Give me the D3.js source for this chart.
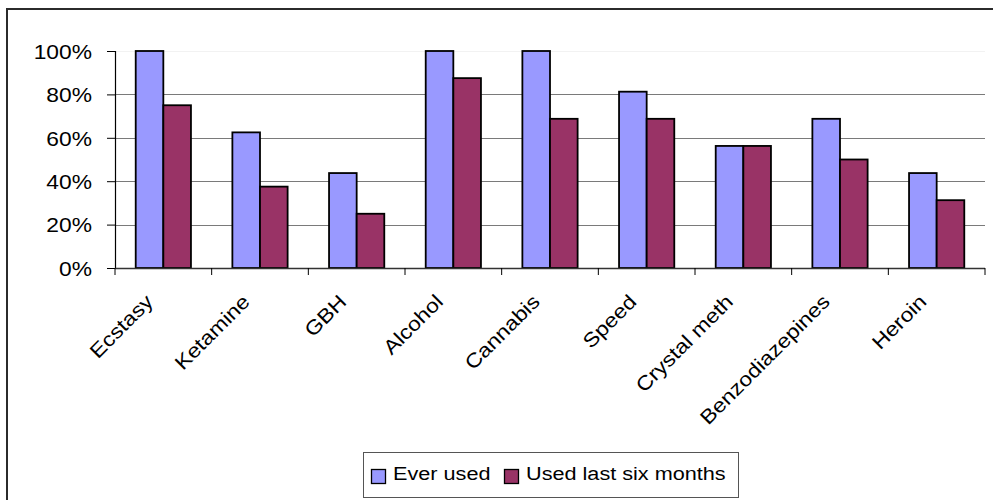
<!DOCTYPE html>
<html>
<head>
<meta charset="utf-8">
<script src="https://cdn.jsdelivr.net/npm/d3@7"></script>
<style>
  html, body { margin: 0; padding: 0; background: #fff; }
  svg { display: block; }
  text { font-family: "Liberation Sans", Arial, sans-serif; fill: #000; }
</style>
</head>
<body>
<svg id="chart" width="993" height="500"></svg>
<script>
// Drug use survey: share of respondents per substance
const categories = ["Ecstasy", "Ketamine", "GBH", "Alcohol", "Cannabis", "Speed", "Crystal meth", "Benzodiazepines", "Heroin"];
const seriesNames = ["Ever used", "Used last six months"];
const everUsed = [1.0, 0.625, 0.4375, 1.0, 1.0, 0.8125, 0.5625, 0.6875, 0.4375];
const usedLastSixMonths = [0.75, 0.375, 0.25, 0.875, 0.6875, 0.6875, 0.5625, 0.5, 0.3125];
const yTicks = [0, 0.2, 0.4, 0.6, 0.8, 1.0];
const colors = ["#9999FF", "#993366"];

const seriesValues = [everUsed, usedLastSixMonths];
const rows = categories.map((c, i) => ({
  category: c,
  values: seriesNames.map((s, k) => ({ series: s, value: seriesValues[k][i], color: colors[k] }))
}));

const svg = d3.select("#chart");
const stretch = 1.14; // horizontal glyph widening used for all labels

// chart area frame
svg.append("rect")
  .attr("x", 7).attr("y", 9)
  .attr("width", 1100).attr("height", 700)
  .attr("fill", "none").attr("stroke", "#2b2b2b").attr("stroke-width", 2);

const plot = { left: 115, right: 985, top: 51, bottom: 268 };

const x0 = d3.scaleBand().domain(categories).range([plot.left, plot.right]).padding(0);
const x1 = d3.scaleBand().domain(seriesNames).range([0, x0.bandwidth()])
  .paddingInner(0).paddingOuter(0.75);
const y = d3.scaleLinear().domain([0, 1]).range([plot.bottom, plot.top]);

// horizontal gridlines
svg.append("g").selectAll("line")
  .data(yTicks.filter(t => t > 0))
  .join("line")
  .attr("x1", plot.left).attr("x2", plot.right)
  .attr("y1", d => Math.round(y(d)) + 0.5).attr("y2", d => Math.round(y(d)) + 0.5)
  .attr("stroke", d => d === 1 ? "#f2f2f2" : "#7a7a7a")
  .attr("stroke-width", 1.2);

// bars
const groups = svg.append("g").selectAll("g")
  .data(rows)
  .join("g")
  .attr("transform", d => `translate(${x0(d.category)},0)`);

groups.selectAll("rect")
  .data(d => d.values)
  .join("rect")
  .attr("x", d => x1(d.series))
  .attr("y", d => y(d.value))
  .attr("width", x1.bandwidth())
  .attr("height", d => y(0) - y(d.value))
  .attr("fill", d => d.color)
  .attr("stroke", "#000")
  .attr("stroke-width", 1.8);

// y axis
const yAxis = svg.append("g")
  .attr("transform", `translate(${plot.left},0)`)
  .call(d3.axisLeft(y).tickValues(yTicks).tickFormat(d3.format(".0%")).tickSize(8).tickPadding(0));
yAxis.select(".domain").attr("stroke", "#000").attr("stroke-width", 1.2);
yAxis.selectAll(".tick line").attr("stroke", "#000");
yAxis.selectAll(".tick text").remove();
yAxis.selectAll(".tick").append("text")
  .attr("transform", `translate(-23,0) scale(${stretch},1)`)
  .attr("text-anchor", "end")
  .attr("dy", "0.36em")
  .style("font-size", "20px")
  .text(d => d3.format(".0%")(d));

// x axis: ticks on band boundaries
const xAxis = svg.append("g");
xAxis.append("line")
  .attr("x1", plot.left).attr("x2", plot.right)
  .attr("y1", plot.bottom + 0.5).attr("y2", plot.bottom + 0.5)
  .attr("stroke", "#333").attr("stroke-width", 1.4);
xAxis.selectAll("line.tick")
  .data(categories.map(c => x0(c)).concat([plot.right]))
  .join("line")
  .attr("class", "tick")
  .attr("x1", d => d).attr("x2", d => d)
  .attr("y1", plot.bottom).attr("y2", plot.bottom + 7)
  .attr("stroke", "#000");

xAxis.selectAll("text")
  .data(categories)
  .join("text")
  .attr("transform", d => `translate(${x0(d) + x0.bandwidth() / 2 - 9},${plot.bottom + 35}) rotate(-45) scale(${stretch},1)`)
  .attr("text-anchor", "end")
  .style("font-size", "20px")
  .text(d => d);

// legend
const legend = svg.append("g");
legend.append("rect")
  .attr("x", 363.5).attr("y", 452.5)
  .attr("width", 375).attr("height", 45)
  .attr("fill", "#fff").attr("stroke", "#555").attr("stroke-width", 1);

const legendX = [371, 504];
const items = legend.selectAll("g.item")
  .data(seriesNames.map((s, k) => ({ name: s, color: colors[k], x: legendX[k] })))
  .join("g")
  .attr("class", "item")
  .attr("transform", d => `translate(${d.x},469)`);
items.append("rect")
  .attr("x", 0.5).attr("y", 0.5)
  .attr("width", 14).attr("height", 14)
  .attr("fill", d => d.color)
  .attr("stroke", "#000").attr("stroke-width", 1.3);
items.append("text")
  .attr("transform", `translate(22,11) scale(${stretch},1)`)
  .style("font-size", "19px")
  .text(d => d.name);
</script>
</body>
</html>
